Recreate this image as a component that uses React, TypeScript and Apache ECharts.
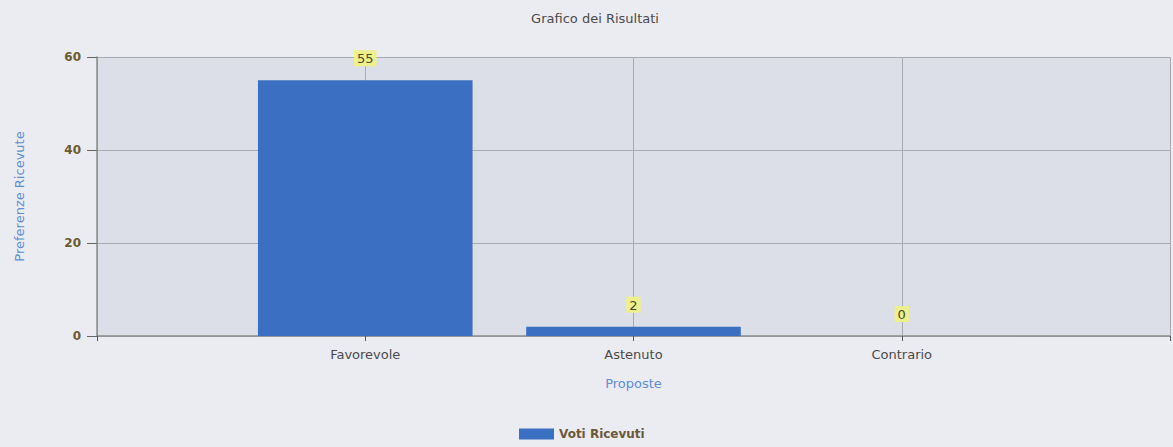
import React, { useEffect, useRef } from "react";
import * as echarts from "echarts";

const categories = ["", "Favorevole", "Astenuto", "Contrario", ""];
const votes: (number | string)[] = ["-", 55, 2, 0, "-"];
const seriesName = "Voti Ricevuti";
const titleText = "Grafico dei Risultati";
const yAxisName = "Preferenze Ricevute";
const xAxisName = "Proposte";

const FONT = "DejaVu Sans, Verdana, sans-serif";

export default function App() {
  const ref = useRef<HTMLDivElement>(null);
  useEffect(() => {
    if (!ref.current) return;
    const chart = echarts.init(ref.current, null, { renderer: "svg" });
    chart.setOption({
      animation: false,
      backgroundColor: "#ebebf2",
      textStyle: { fontFamily: FONT },
      title: {
        text: titleText,
        left: 590,
        top: 7,
        textAlign: "center",
        textStyle: { fontSize: 13, fontWeight: "normal", color: "#4a4a4a", fontFamily: FONT },
      },
      legend: {
        data: [seriesName],
        left: 514,
        top: 423,
        icon: "rect",
        itemWidth: 35,
        itemHeight: 11,
        itemGap: 4,
        textStyle: { fontSize: 12, fontWeight: "bold", color: "#6a5a3a", fontFamily: FONT },
      },
      grid: {
        show: true,
        left: 97,
        top: 57,
        width: 1080,
        bottom: 111,
        backgroundColor: "#dcdfe7",
        borderWidth: 0,
      },
      xAxis: {
        type: "category",
        data: categories,
        boundaryGap: false,
        name: xAxisName,
        nameLocation: "middle",
        nameGap: 41,
        nameTextStyle: { color: "#5b8fd0", fontSize: 13, fontFamily: FONT },
        axisLine: { show: true, lineStyle: { color: "#8c8c8c", width: 1.5 } },
        axisTick: { show: true, length: 5, lineStyle: { color: "#555" }, interval: 0 },
        axisLabel: { color: "#4a4a4a", fontSize: 13, margin: 12, interval: 0, fontFamily: FONT },
        splitLine: { show: true, lineStyle: { color: "#a8abb3", width: 1 } },
      },
      yAxis: {
        type: "value",
        min: 0,
        max: 60,
        interval: 20,
        name: yAxisName,
        nameLocation: "middle",
        nameGap: 71,
        nameRotate: 90,
        nameTextStyle: { color: "#5b8fd0", fontSize: 13, fontFamily: FONT },
        axisLine: { show: true, lineStyle: { color: "#8c8c8c", width: 1.5 } },
        axisTick: { show: true, length: 10, lineStyle: { color: "#666" } },
        axisLabel: { color: "#6b5a2a", fontSize: 12, fontWeight: "bold", margin: 16, fontFamily: FONT },
        splitLine: { show: true, lineStyle: { color: "#a8abb3", width: 1.2 } },
      },
      series: [
        {
          name: seriesName,
          type: "bar",
          data: votes,
          barWidth: "80%",
          itemStyle: { color: "#3a6fc1", borderWidth: 0 },
          label: {
            show: true,
            position: "top",
            distance: 14,
            color: "#4a4a2a",
            fontSize: 13,
            fontFamily: FONT,
            backgroundColor: "#eef08c",
            padding: [2, 3, 1, 3],
          },
        },
      ],
    });
    return () => chart.dispose();
  }, []);
  return (
    <div
      ref={ref}
      style={{ position: "absolute", left: 0, top: 0, width: 1173, height: 447 }}
    />
  );
}
